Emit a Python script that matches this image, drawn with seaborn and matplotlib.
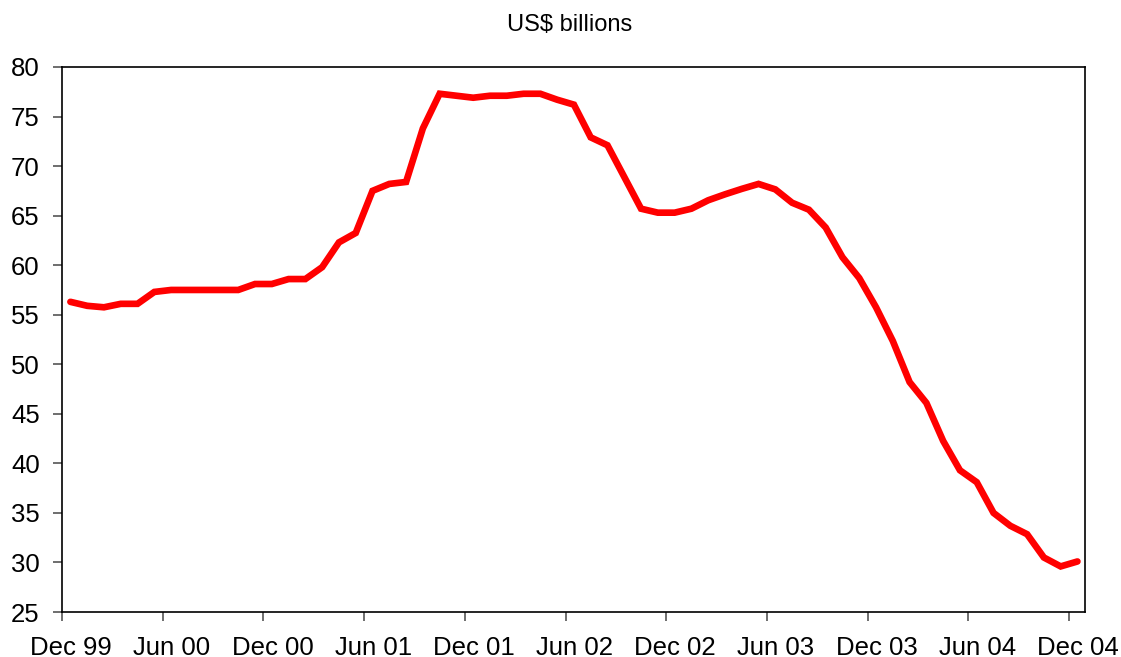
import numpy as np
import pandas as pd
import matplotlib
matplotlib.use("Agg")
import matplotlib.pyplot as plt
import matplotlib.transforms as mtransforms
import seaborn as sns

values = [56.3, 55.9, 55.75, 56.1, 56.1, 57.3, 57.5, 57.5, 57.5, 57.5,
          57.5, 58.1, 58.1, 58.6, 58.6, 59.8, 62.3, 63.25, 67.5, 68.2,
          68.4, 73.8, 77.3, 77.1, 76.9, 77.1, 77.1, 77.3, 77.3, 76.7,
          76.2, 72.9, 72.1, 68.9, 65.7, 65.3, 65.3, 65.7, 66.55, 67.15,
          67.7, 68.2, 67.65, 66.3, 65.6, 63.8, 60.8, 58.7, 55.75, 52.35,
          48.2, 46.1, 42.26, 39.3, 38.1, 35.0, 33.7, 32.85, 30.5, 29.6,
          30.1]
tick_labels = ["Dec 99", "Jun 00", "Dec 00", "Jun 01", "Dec 01", "Jun 02",
               "Dec 02", "Jun 03", "Dec 03", "Jun 04", "Dec 04"]
y_ticks = [25, 30, 35, 40, 45, 50, 55, 60, 65, 70, 75, 80]
title = "US$ billions"

df = pd.DataFrame({"month": np.arange(len(values)), "value": values})

sns.set_theme(style="white")
plt.rcParams['font.family'] = ['Liberation Sans', 'DejaVu Sans']

fig = plt.figure(figsize=(11.21, 6.57), dpi=100)
ax = fig.add_axes([62/1121, 1-612/657, (1085-62)/1121, (612-67)/657])

sns.lineplot(data=df, x="month", y="value", ax=ax, color="#ff0000",
             linewidth=4.8, solid_joinstyle="miter")

ax.set_xlim(-0.5, 60.45)
ax.set_ylim(25, 80)
ax.set_xticks([-0.5 + 6*k for k in range(len(tick_labels))])
ax.set_xticklabels(tick_labels, fontsize=18.5, color="black")
ax.set_yticks(y_ticks)
ax.set_yticklabels([str(v) for v in y_ticks], fontsize=18.5, color="black")
ax.set_xlabel("")
ax.set_ylabel("")
ax.tick_params(axis="both", direction="out", length=6.5, width=1.2,
               color="#555555", bottom=True, left=True)
ax.tick_params(axis="x", pad=10.5)
ax.tick_params(axis="y", pad=9.5)
offset = mtransforms.ScaledTranslation(9/100, 0, fig.dpi_scale_trans)
for lbl in ax.get_xticklabels():
    lbl.set_transform(lbl.get_transform() + offset)
for s in ax.spines.values():
    s.set_color("black")
    s.set_linewidth(1.2)
fig.text(570/1121, 1-25/657, title, ha="center", va="center", fontsize=17,
         color="black")

fig.savefig("out.png", dpi=100)
